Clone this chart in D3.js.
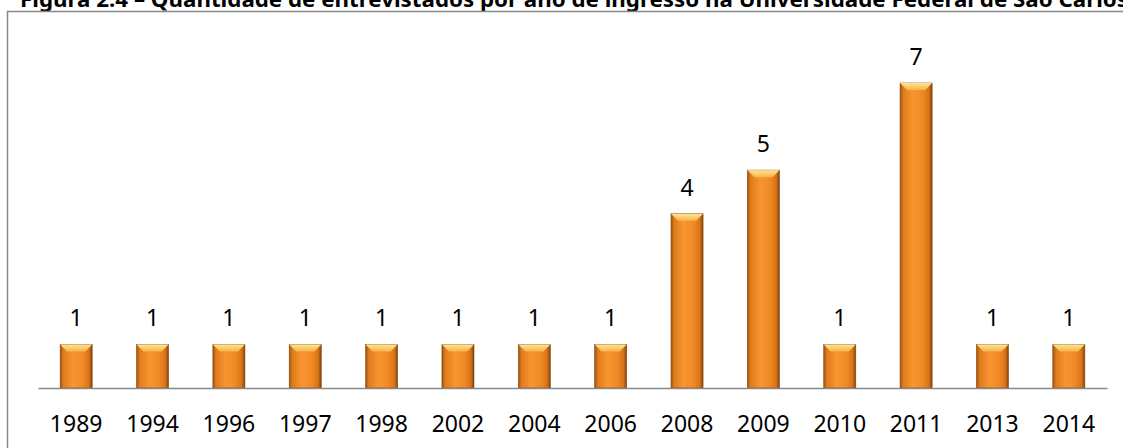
<!DOCTYPE html>
<html>
<head>
<meta charset="utf-8">
<script src="https://cdn.jsdelivr.net/npm/d3@7"></script>
<style>
  body { margin: 0; background: #fff; }
  svg { display: block; }
</style>
</head>
<body>
<div id="chart"></div>
<script>
// data
var title = "Figura 2.4 – Quantidade de entrevistados por ano de ingresso na Universidade Federal de São Carlos";
var years = ["1989", "1994", "1996", "1997", "1998", "2002", "2004", "2006", "2008", "2009", "2010", "2011", "2013", "2014"];
var counts = [1, 1, 1, 1, 1, 1, 1, 1, 4, 5, 1, 7, 1, 1];

var W = 1123, H = 448;
var font = "'Noto Sans', 'Open Sans', sans-serif";

var svg = d3.select("#chart")
  .append("svg")
    .attr("width", W)
    .attr("height", H);

// gradients for the bevelled bars
var defs = svg.append("defs");
var body = defs.append("linearGradient").attr("id", "barBody")
  .attr("x1", 0).attr("x2", 1).attr("y1", 0).attr("y2", 0);
body.append("stop").attr("offset", "0%").attr("stop-color", "#9a520f");
body.append("stop").attr("offset", "10%").attr("stop-color", "#e07c1c");
body.append("stop").attr("offset", "40%").attr("stop-color", "#f79530");
body.append("stop").attr("offset", "70%").attr("stop-color", "#f28a24");
body.append("stop").attr("offset", "90%").attr("stop-color", "#d87418");
body.append("stop").attr("offset", "100%").attr("stop-color", "#7e420c");

var cap = defs.append("linearGradient").attr("id", "barCap")
  .attr("x1", 0).attr("x2", 0).attr("y1", 0).attr("y2", 1);
cap.append("stop").attr("offset", "0%").attr("stop-color", "#fde59a");
cap.append("stop").attr("offset", "100%").attr("stop-color", "#f8b444");

// title, cut off by the top edge like the reference
svg.append("text")
  .attr("x", 20)
  .attr("y", 7)
  .attr("textLength", 1108)
  .attr("lengthAdjust", "spacingAndGlyphs")
  .style("font-family", font)
  .style("font-weight", "bold")
  .style("font-size", "22px")
  .style("fill", "#000")
  .text(title);

// outer frame
svg.append("rect")
  .attr("x", 7.5).attr("y", 11.5)
  .attr("width", 1130).attr("height", 460)
  .attr("fill", "none")
  .attr("stroke", "#878787")
  .attr("stroke-width", 1.5);

// scales
var x = d3.scaleBand()
  .domain(years)
  .range([38, 1107])
  .paddingInner(0.58)
  .paddingOuter(0.29);

var y = d3.scaleLinear()
  .domain([0, 7])
  .range([388, 83]);

var data = years.map(function (d, i) { return {year: d, value: counts[i]}; });

// bars
var bars = svg.append("g").selectAll("g")
  .data(data)
  .enter()
  .append("g");

bars.append("rect")
  .attr("x", function (d) { return x(d.year); })
  .attr("y", function (d) { return y(d.value); })
  .attr("width", x.bandwidth())
  .attr("height", function (d) { return y(0) - y(d.value); })
  .attr("fill", "url(#barBody)")
  .attr("stroke", "#8a4a10")
  .attr("stroke-width", 0.6);

// top bevel
bars.append("path")
  .attr("d", function (d) {
    var x0 = x(d.year), x1 = x0 + x.bandwidth(), t = y(d.value), b = 7, s = 7;
    return "M" + x0 + "," + t + "L" + x1 + "," + t + "L" + (x1 - s) + "," + (t + b) +
      "L" + (x0 + s) + "," + (t + b) + "Z";
  })
  .attr("fill", "url(#barCap)");

// value labels
svg.append("g").selectAll("text")
  .data(data)
  .enter()
  .append("text")
  .attr("x", function (d) { return x(d.year) + x.bandwidth() / 2; })
  .attr("y", function (d) { return y(d.value) - 18; })
  .attr("text-anchor", "middle")
  .style("font-family", font)
  .style("font-size", "23px")
  .style("fill", "#000")
  .text(function (d) { return d.value; });

// category axis
var axis = svg.append("g")
  .attr("transform", "translate(0,388)")
  .call(d3.axisBottom(x).tickSize(0).tickPadding(28));
axis.select(".domain")
  .attr("stroke", "#898989")
  .attr("stroke-width", 1.5);
axis.selectAll("text")
  .style("font-family", font)
  .style("font-size", "23px")
  .style("fill", "#000");
</script>
</body>
</html>
